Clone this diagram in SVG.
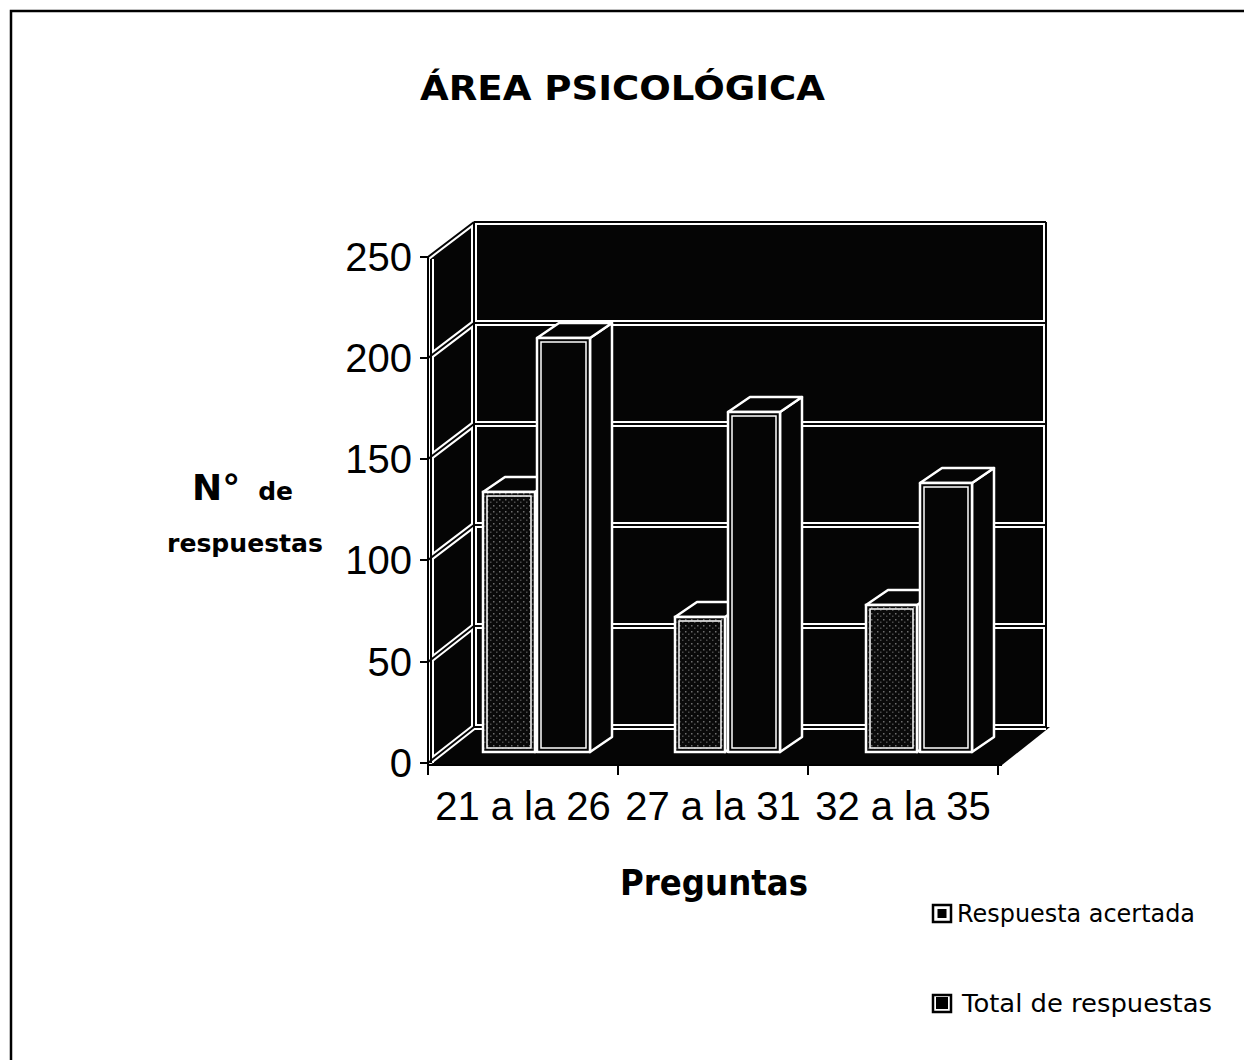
<svg xmlns="http://www.w3.org/2000/svg" width="1244" height="1060" viewBox="0 0 1244 1060">
<defs>
<pattern id="speck" width="6" height="6" patternUnits="userSpaceOnUse">
<rect width="6" height="6" fill="#0a0a0a"/>
<rect x="1" y="1" width="1.5" height="1.5" fill="#6e6e6e"/>
<rect x="4" y="3.5" width="1.5" height="1.5" fill="#4a4a4a"/>
</pattern>
</defs>
<style>
.comic{font-family:"DejaVu Sans","Liberation Sans",sans-serif;fill:#000}
.num{font-family:"Liberation Sans",Arial,sans-serif;font-size:40px;fill:#000}
.wall{fill:#050505;stroke:none}
.gw{stroke:#fff;stroke-width:6;fill:none}
.gb{stroke:#050505;stroke-width:2;fill:none}
.face{fill:#050505;stroke:#fff;stroke-width:2.5;stroke-linejoin:round}
.acc{fill:url(#speck);stroke:#fff;stroke-width:2.5}
.inner{fill:none;stroke:#fff;stroke-width:1.5}
.axis{stroke:#000;stroke-width:2;fill:none}
</style>
<rect width="1244" height="1060" fill="#fff"/>
<g id="frame">
<path d="M11 1060 V11 H1244" fill="none" stroke="#000" stroke-width="2.5"/>
</g>
<g id="title">
<text class="comic" x="420" y="100" font-size="34" font-weight="bold" textLength="405" lengthAdjust="spacingAndGlyphs">ÁREA PSICOLÓGICA</text>
</g>
<g id="chart-walls">
<polygon class="wall" points="428,257 474,222 474,727 428,765"/>
<rect class="wall" x="474" y="222" width="572" height="505"/>
<polygon class="wall" points="428,765 474,727 1050,727 1002,765"/>
</g>
<g id="gridlines">
<g class="gw">
<path d="M474 222 H1046 M474 323 H1046 M474 424 H1046 M474 525 H1046 M474 626 H1046 M474 727 H1046 M474 222 V727 M1046 222 V727"/>
<path d="M428 257 L474 222 M428 358 L474 323 M428 459 L474 424 M428 560 L474 525 M428 662 L474 626 M428 763 L474 727 M431 259 V763"/>
</g>
<g class="gb">
<path d="M474 222 H1046 M474 323 H1046 M474 424 H1046 M474 525 H1046 M474 626 H1046 M474 727 H1046 M474 222 V727 M1046 222 V727"/>
<path d="M428 257 L474 222 M428 358 L474 323 M428 459 L474 424 M428 560 L474 525 M428 662 L474 626 M428 763 L474 727 M431 259 V763"/>
</g>
</g>
<g id="bar-1-acertada">
<polygon class="face" points="535,492 557,477 557,737 535,752"/>
<polygon class="face" points="483,492 505,477 557,477 535,492"/>
<rect class="acc" x="483" y="492" width="52" height="260"/>
<rect class="inner" x="487" y="496" width="44" height="252"/>
</g>
<g id="bar-1-total">
<polygon class="face" points="590,338 612,323 612,737 590,752"/>
<polygon class="face" points="537,338 559,323 612,323 590,338"/>
<rect class="face" x="537" y="338" width="53" height="414"/>
<rect class="inner" x="541" y="342" width="45" height="406"/>
</g>
<g id="bar-2-acertada">
<polygon class="face" points="725,617 747,602 747,737 725,752"/>
<polygon class="face" points="675,617 697,602 747,602 725,617"/>
<rect class="acc" x="675" y="617" width="50" height="135"/>
<rect class="inner" x="679" y="621" width="42" height="127"/>
</g>
<g id="bar-2-total">
<polygon class="face" points="780,412 802,397 802,737 780,752"/>
<polygon class="face" points="728,412 750,397 802,397 780,412"/>
<rect class="face" x="728" y="412" width="52" height="340"/>
<rect class="inner" x="732" y="416" width="44" height="332"/>
</g>
<g id="bar-3-acertada">
<polygon class="face" points="917,605 939,590 939,737 917,752"/>
<polygon class="face" points="866,605 888,590 939,590 917,605"/>
<rect class="acc" x="866" y="605" width="51" height="147"/>
<rect class="inner" x="870" y="609" width="43" height="139"/>
</g>
<g id="bar-3-total">
<polygon class="face" points="972,483 994,468 994,737 972,752"/>
<polygon class="face" points="920,483 942,468 994,468 972,483"/>
<rect class="face" x="920" y="483" width="52" height="269"/>
<rect class="inner" x="924" y="487" width="44" height="261"/>
</g>
<g id="axes">
<path class="axis" d="M428 256 V765 H1002"/>
<path class="axis" d="M420 257 H428 M420 358 H428 M420 459 H428 M420 560 H428 M420 662 H428 M420 763 H428"/>
<path class="axis" d="M428 765 V775 M618 765 V775 M808 765 V775 M998 765 V775"/>
</g>
<g id="y-labels">
<text class="num" x="412" y="271" text-anchor="end">250</text>
<text class="num" x="412" y="372" text-anchor="end">200</text>
<text class="num" x="412" y="473" text-anchor="end">150</text>
<text class="num" x="412" y="574" text-anchor="end">100</text>
<text class="num" x="412" y="676" text-anchor="end">50</text>
<text class="num" x="412" y="777" text-anchor="end">0</text>
</g>
<g id="x-labels">
<text class="num" x="523" y="820" text-anchor="middle">21 a la 26</text>
<text class="num" x="713" y="820" text-anchor="middle">27 a la 31</text>
<text class="num" x="903" y="820" text-anchor="middle">32 a la 35</text>
</g>
<g id="y-title">
<text class="comic" font-weight="bold" x="192" y="500"><tspan font-size="36">N°</tspan><tspan font-size="25" dx="18">de</tspan></text>
<text class="comic" font-weight="bold" x="167" y="552" font-size="25" textLength="156" lengthAdjust="spacingAndGlyphs">respuestas</text>
</g>
<g id="x-title">
<text class="comic" font-weight="bold" x="620" y="895" font-size="36" textLength="188" lengthAdjust="spacingAndGlyphs">Preguntas</text>
</g>
<g id="legend">
<g id="legend-acertada">
<rect x="933" y="905" width="18" height="17" fill="#fff" stroke="#000" stroke-width="2.5"/>
<rect x="937.5" y="909" width="9" height="9" fill="#000"/>
<text class="comic" x="957" y="922" font-size="24" textLength="238" lengthAdjust="spacingAndGlyphs">Respuesta acertada</text>
</g>
<g id="legend-total">
<rect x="933" y="995" width="18" height="17" fill="#fff" stroke="#000" stroke-width="2.5"/>
<rect x="936" y="997" width="12" height="12" fill="#000"/>
<text class="comic" x="962" y="1012" font-size="24" textLength="250" lengthAdjust="spacingAndGlyphs">Total de respuestas</text>
</g>
</g>
</svg>
